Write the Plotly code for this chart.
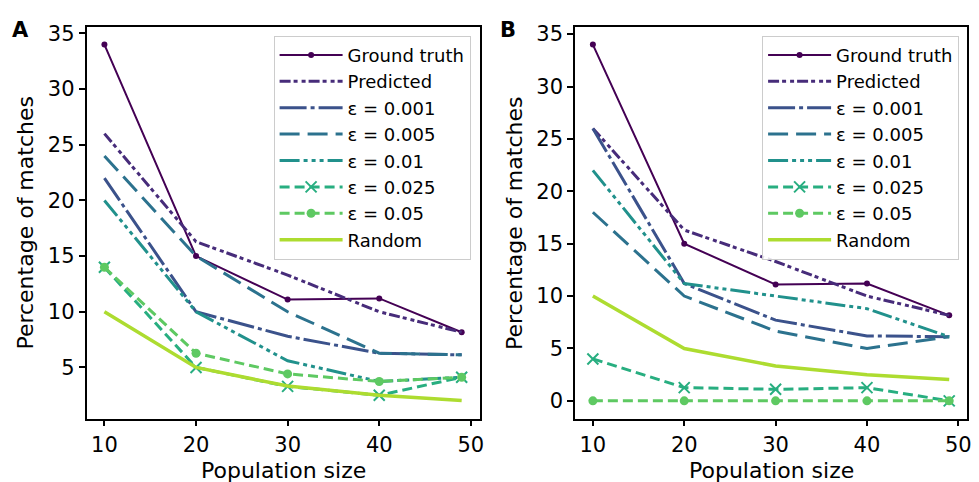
import plotly.graph_objects as go

pop_sizes = [10, 20, 30, 40, 49]
x_ticks = [10, 20, 30, 40, 50]

labels = ["Ground truth", "Predicted", "ε = 0.001", "ε = 0.005", "ε = 0.01",
          "ε = 0.025", "ε = 0.05", "Random"]

# Panel A
a_ground_truth = [34.0, 15.0, 11.1, 11.2, 8.16]
a_predicted = [26.0, 16.3, 13.3, 10.0, 8.16]
a_eps_0001 = [22.0, 10.0, 7.8, 6.28, 6.13]
a_eps_0005 = [24.0, 15.0, 10.0, 6.28, 6.13]
a_eps_001 = [20.0, 10.0, 5.6, 3.74, 4.12]
a_eps_0025 = [14.0, 5.0, 3.3, 2.5, 4.12]
a_eps_005 = [14.0, 6.28, 4.42, 3.74, 4.12]
a_random = [10.0, 5.0, 3.33, 2.5, 2.04]
a_yticks = [5, 10, 15, 20, 25, 30, 35]

# Panel B
b_ground_truth = [34.0, 15.0, 11.1, 11.2, 8.16]
b_predicted = [26.0, 16.3, 13.3, 10.0, 8.16]
b_eps_0001 = [26.0, 11.2, 7.7, 6.2, 6.12]
b_eps_0005 = [18.0, 10.0, 6.65, 5.0, 6.12]
b_eps_001 = [22.0, 11.2, 10.0, 8.8, 6.12]
b_eps_0025 = [4.0, 1.26, 1.1, 1.26, 0.0]
b_eps_005 = [0.0, 0.0, 0.0, 0.0, 0.0]
b_random = [10.0, 5.0, 3.33, 2.5, 2.04]
b_yticks = [0, 5, 10, 15, 20, 25, 30, 35]

colors = ["#440154", "#472c7a", "#3b528b", "#2c728e", "#21918c", "#28ae80", "#5ec962", "#addc30"]
dashes = ["solid", "11px,3px,4px,4px,4px,3px", "27px,4px,4px,4px", "20px,8px",
          "20px,4px,4px,4px,4px,4px,4px,4px", "10px,5px", "10px,5px", "solid"]
widths = [2, 3, 3, 3, 3, 3, 3, 3.5]
markers = [dict(symbol="circle", size=6), None, None, None, None,
           dict(symbol="x-thin", size=11, line=dict(width=2)), dict(symbol="circle", size=9), None]

FONT = "DejaVu Sans"
fig = go.Figure()

panels = [
    ("x", "y", "legend", [a_ground_truth, a_predicted, a_eps_0001, a_eps_0005, a_eps_001, a_eps_0025, a_eps_005, a_random]),
    ("x2", "y2", "legend2", [b_ground_truth, b_predicted, b_eps_0001, b_eps_0005, b_eps_001, b_eps_0025, b_eps_005, b_random]),
]
for xa, ya, lg, series in panels:
    for i, vals in enumerate(series):
        mk = markers[i]
        kw = {}
        if mk is not None:
            m = dict(mk)
            m["color"] = colors[i]
            if "line" in m:
                m["line"] = dict(width=m["line"]["width"], color=colors[i])
            kw["marker"] = m
            mode = "lines+markers"
        else:
            mode = "lines"
        fig.add_trace(go.Scatter(
            x=pop_sizes, y=vals, name=labels[i], mode=mode,
            line=dict(color=colors[i], width=widths[i], dash=dashes[i]),
            xaxis=xa, yaxis=ya, legend=lg, legendgroup=f"{lg}_{i}", **kw))

axis_common = dict(showline=True, mirror=True, linecolor="black", linewidth=1.6,
                   ticks="outside", ticklen=6, tickwidth=1.5, tickcolor="black",
                   showgrid=False, zeroline=False,
                   tickfont=dict(family=FONT, size=21, color="black"))

ydom = [1 - 418 / 482, 1 - 22 / 482]
legend_common = dict(xanchor="left", yanchor="top",
                     bgcolor="rgba(255,255,255,0.85)", bordercolor="#cccccc", borderwidth=1,
                     font=dict(family=FONT, size=18, color="black"), tracegroupgap=5,
                     traceorder="normal", itemwidth=63)
fig.update_layout(
    width=979, height=482,
    margin=dict(l=0, r=0, t=0, b=0),
    paper_bgcolor="white", plot_bgcolor="white",
    font=dict(family=FONT, color="black"),
    xaxis=dict(domain=[87 / 979, 482 / 979], range=[8.05, 50.95], tickvals=x_ticks,
               anchor="y", **axis_common),
    yaxis=dict(domain=ydom, range=[0.4, 35.6], tickvals=a_yticks, anchor="x", **axis_common),
    xaxis2=dict(domain=[578 / 979, 972 / 979], range=[8.05, 50.95], tickvals=x_ticks,
                anchor="y2", **axis_common),
    yaxis2=dict(domain=ydom, range=[-1.7, 35.7], tickvals=b_yticks, anchor="x2", **axis_common),
    legend=dict(x=275 / 979, y=1 - 31 / 482, **legend_common),
    legend2=dict(x=766 / 979, y=1 - 31 / 482, **legend_common),
    showlegend=True,
)

for txt, xc in [("<b>A</b>", 21), ("<b>B</b>", 511)]:
    fig.add_annotation(text=txt, xref="paper", yref="paper", x=xc / 979, y=1 - 25 / 482,
                       xanchor="center", yanchor="middle", showarrow=False,
                       font=dict(family=FONT, size=21, color="black"))

for xc in [284.5, 775]:
    fig.add_annotation(text="Population size", xref="paper", yref="paper",
                       x=xc / 979, y=1 - 470 / 482, xanchor="center", yanchor="middle",
                       showarrow=False, font=dict(family=FONT, size=22, color="black"))
for xc in [26, 517]:
    fig.add_annotation(text="Percentage of matches", xref="paper", yref="paper",
                       x=xc / 979, y=1 - 220 / 482, xanchor="center", yanchor="middle",
                       showarrow=False, textangle=-90,
                       font=dict(family=FONT, size=22, color="black"))

fig.write_html("out.html", config={"displayModeBar": False},
               post_script="document.body.style.margin='0';document.body.style.overflow='hidden';")
